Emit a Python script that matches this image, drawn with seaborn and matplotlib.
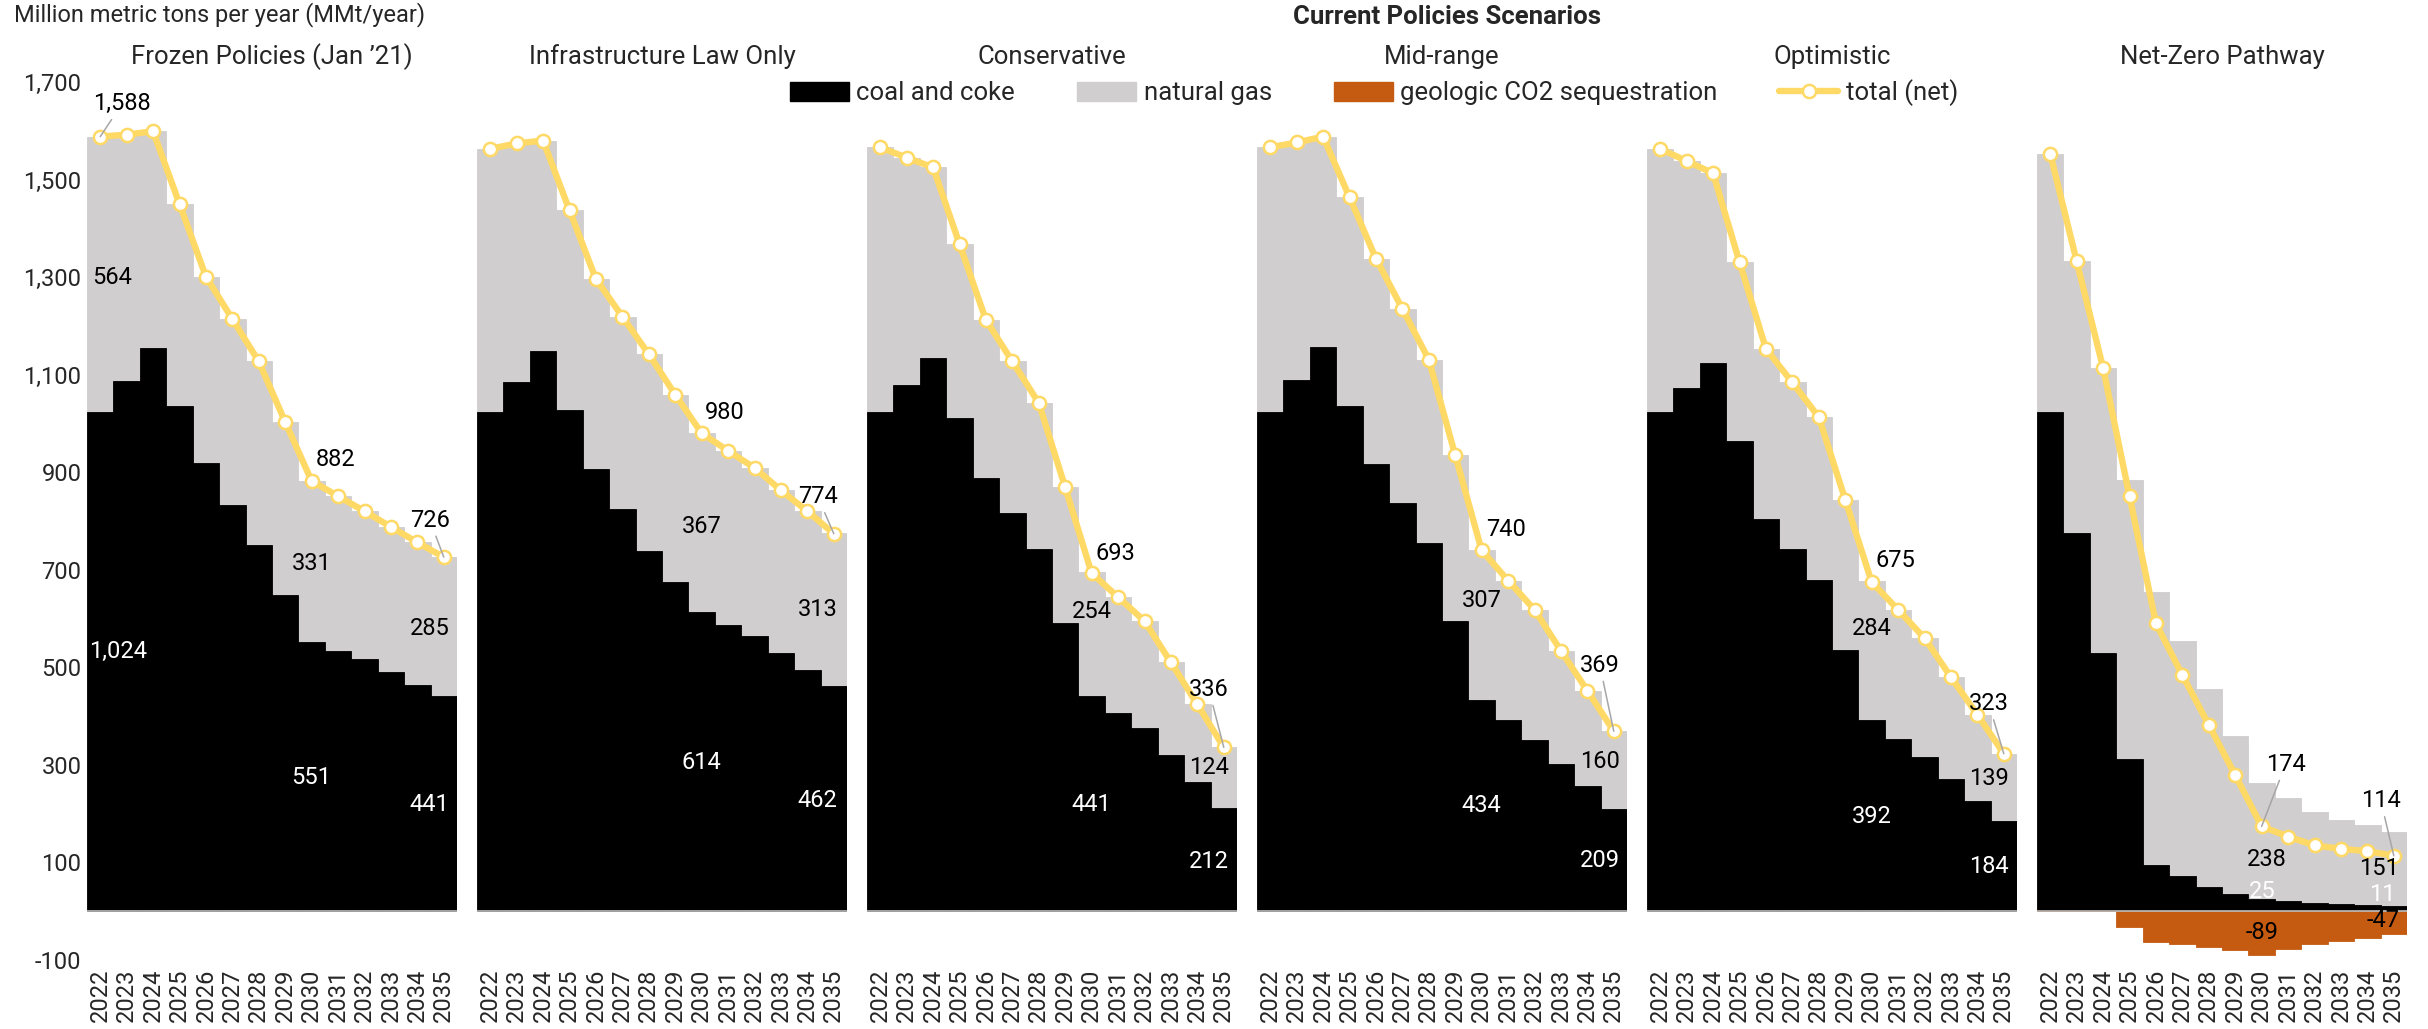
import numpy as np
import matplotlib
matplotlib.use("Agg")
import matplotlib.pyplot as plt
from matplotlib.patches import Patch
from matplotlib.lines import Line2D
from matplotlib.ticker import FuncFormatter
import seaborn as sns

sns.set_theme(style="white")
plt.rcParams["font.family"] = ["Roboto", "DejaVu Sans"]

COAL = "#000000"
GAS = "#D0CECE"
SEQ = "#C55A11"
TOTAL = "#FFD966"

years = [str(y) for y in range(2022, 2036)]

# million metric tons per year
frozen_coal = [1024, 1087, 1155, 1036, 918, 833, 750, 649, 551, 533, 517, 490, 463, 441]
frozen_gas = [564, 505, 444, 414, 383, 381, 377, 354, 331, 318, 303, 298, 293, 285]
frozen_total = [1588, 1592, 1599, 1450, 1301, 1214, 1127, 1003, 882, 851, 820, 788, 756, 726]

infra_coal = [1024, 1085, 1149, 1028, 907, 824, 739, 675, 614, 587, 564, 529, 495, 462]
infra_gas = [539, 489, 431, 409, 389, 395, 403, 384, 367, 357, 345, 334, 325, 313]
infra_total = [1563, 1574, 1580, 1437, 1296, 1219, 1142, 1059, 980, 944, 909, 863, 820, 774]

conserv_coal = [1024, 1078, 1135, 1012, 888, 816, 743, 591, 441, 407, 376, 321, 265, 212]
conserv_gas = [542, 467, 390, 356, 324, 311, 299, 278, 254, 237, 219, 189, 159, 124]
conserv_total = [1566, 1545, 1525, 1368, 1212, 1127, 1042, 869, 693, 644, 595, 510, 424, 336]

mid_coal = [1024, 1089, 1156, 1036, 917, 836, 754, 594, 434, 392, 352, 302, 256, 209]
mid_gas = [542, 487, 432, 428, 421, 399, 377, 341, 307, 286, 266, 232, 196, 160]
mid_total = [1566, 1576, 1588, 1464, 1338, 1235, 1131, 935, 740, 678, 618, 534, 452, 369]

optim_coal = [1024, 1072, 1123, 963, 804, 742, 679, 536, 392, 353, 317, 272, 226, 184]
optim_gas = [539, 466, 390, 368, 349, 342, 334, 308, 284, 265, 243, 208, 177, 139]
optim_total = [1563, 1538, 1513, 1331, 1153, 1084, 1013, 844, 675, 618, 560, 480, 403, 323]

netzero_coal = [1024, 775, 530, 313, 95, 73, 50, 35, 25, 20, 16, 14, 12, 11]
netzero_gas = [529, 558, 584, 571, 560, 482, 405, 324, 238, 213, 187, 174, 164, 151]
netzero_seq = [0, 0, 0, -32, -64, -68, -73, -80, -89, -77, -68, -61, -54, -47]
netzero_total = [1553, 1333, 1114, 851, 590, 484, 382, 279, 174, 153, 135, 128, 123, 114]

panels = [
    ("Frozen Policies (Jan \u201921)", frozen_coal, frozen_gas, None, frozen_total),
    ("Infrastructure Law Only", infra_coal, infra_gas, None, infra_total),
    ("Conservative", conserv_coal, conserv_gas, None, conserv_total),
    ("Mid-range", mid_coal, mid_gas, None, mid_total),
    ("Optimistic", optim_coal, optim_gas, None, optim_total),
    ("Net-Zero Pathway", netzero_coal, netzero_gas, netzero_seq, netzero_total),
]

# data labels: panel, year, series, x/y nudge in pixels, leader line
data_labels = [
    (0, "2022", "total", 22, 33, True), (0, "2022", "gas", 12, -3, False), (0, "2022", "coal", 18, 10, False),
    (0, "2030", "total", 24, 22, False), (0, "2030", "gas", 0, -2, False), (0, "2030", "coal", 0, -1, False),
    (0, "2035", "total", -14, 37, True), (0, "2035", "gas", -14, -2, False), (0, "2035", "coal", -14, -1, False),
    (1, "2030", "total", 23, 21, False), (1, "2030", "gas", 0, -4, False), (1, "2030", "coal", 0, -1, False),
    (1, "2035", "total", -16, 37, True), (1, "2035", "gas", -16, 0, False), (1, "2035", "coal", -16, -2, False),
    (2, "2030", "total", 24, 20, False), (2, "2030", "gas", 0, 23, False), (2, "2030", "coal", 0, -1, False),
    (2, "2035", "total", -15, 58, True), (2, "2035", "gas", -15, 10, False), (2, "2035", "coal", -15, -2, False),
    (3, "2030", "total", 24, 21, False), (3, "2030", "gas", 0, 24, False), (3, "2030", "coal", 0, 0, False),
    (3, "2035", "total", -14, 66, True), (3, "2035", "gas", -14, 9, False), (3, "2035", "coal", -14, 0, False),
    (4, "2030", "total", 24, 21, False), (4, "2030", "gas", 0, 22, False), (4, "2030", "coal", 0, -1, False),
    (4, "2035", "total", -15, 50, True), (4, "2035", "gas", -15, 9, False), (4, "2035", "coal", -15, 0, False),
    (5, "2030", "total", 24, 62, True), (5, "2030", "gas", 5, -19, False), (5, "2030", "coal", 1, 14, False),
    (5, "2030", "seq", 0, 0, False),
    (5, "2035", "total", -13, 55, True), (5, "2035", "gas", -15, 1, False), (5, "2035", "coal", -11, 14, False),
    (5, "2035", "seq", -11, 2, False),
]

fig, axes = plt.subplots(1, 6, figsize=(24.28, 10.29), dpi=100, sharey=True)
fig.subplots_adjust(left=87 / 2428, right=2407 / 2428, top=1 - 82 / 1029,
                    bottom=1 - 960 / 1029, wspace=20 / 370)

x = np.arange(len(years))
for k, (ax, (title, coal, gas, seq, total)) in enumerate(zip(axes, panels)):
    coal = np.array(coal)
    gas = np.array(gas)
    stack = coal + gas
    sns.barplot(x=years, y=stack, order=years, color=GAS, saturation=1, width=1,
                errorbar=None, edgecolor=GAS, linewidth=0.6, ax=ax)
    sns.barplot(x=years, y=coal, order=years, color=COAL, saturation=1, width=1,
                errorbar=None, edgecolor=COAL, linewidth=0.6, ax=ax)
    if seq is not None:
        sns.barplot(x=years, y=seq, order=years, color=SEQ, saturation=1, width=1,
                    errorbar=None, edgecolor=SEQ, linewidth=0.6, ax=ax)
    ax.axhline(0, color="#bfbfbf", lw=1.2, zorder=2.5)
    sns.lineplot(x=x, y=total, color=TOTAL, linewidth=4.6, marker="o", markersize=9.5,
                 markerfacecolor="white", markeredgecolor=TOTAL, markeredgewidth=1.8,
                 ax=ax, zorder=4)

    ax.set_xlim(-0.5, len(years) - 0.5)
    ax.set_ylim(-100, 1700)
    ax.set_yticks(range(-100, 1701, 200))
    ax.yaxis.set_major_formatter(FuncFormatter(lambda v, p: f"{v:,.0f}"))
    ax.set_xlabel("")
    ax.set_ylabel("")
    ax.tick_params(axis="x", labelrotation=90, labelsize=17, length=0, pad=6)
    ax.tick_params(axis="y", labelsize=17, length=0, pad=4)
    for s in ax.spines.values():
        s.set_visible(False)
    ax.set_title(title, fontsize=18.5, pad=13)

    series = {"coal": coal, "gas": gas, "total": np.array(total),
              "seq": np.array(seq) if seq is not None else None}
    for p, yr, name, dx, dy, leader in data_labels:
        if p != k:
            continue
        i = years.index(yr)
        val = series[name][i]
        if name == "coal":
            ya = coal[i] / 2
        elif name == "gas":
            ya = coal[i] + gas[i] / 2
        elif name == "seq":
            ya = val / 2
        else:
            ya = val
        kw = {}
        if leader:
            kw["arrowprops"] = dict(arrowstyle="-", color="#a6a6a6", lw=1.1,
                                    shrinkA=1, shrinkB=0)
        ax.annotate(f"{val:,}", xy=(i, ya), xytext=(dx, dy), textcoords="offset pixels",
                    ha="center", va="center", fontsize=17,
                    color="white" if name == "coal" else "black", zorder=6, **kw)

handles = [
    Patch(facecolor=COAL, edgecolor=COAL),
    Patch(facecolor=GAS, edgecolor=GAS),
    Patch(facecolor=SEQ, edgecolor=SEQ),
    Line2D([], [], color=TOTAL, lw=4.6, marker="o", markersize=9.5,
           markerfacecolor="white", markeredgecolor=TOTAL, markeredgewidth=1.8),
]
legend_labels = ["coal and coke", "natural gas", "geologic CO2 sequestration", "total (net)"]
fig.legend(handles, legend_labels, loc="center", bbox_to_anchor=(1374 / 2428, 1 - 93 / 1029),
           ncol=4, frameon=False, fontsize=18.5, handlelength=2.3, handleheight=0.75,
           handletextpad=0.3, columnspacing=2.4, numpoints=1)

fig.text(1447 / 2428, 1 - 17 / 1029, "Current Policies Scenarios", ha="center", va="center",
         fontsize=18.5, fontweight="bold")
fig.text(14 / 2428, 1 - 2 / 1029, "Million metric tons per year (MMt/year)", ha="left",
         va="top", fontsize=17)

fig.savefig("out.png", dpi=100)
